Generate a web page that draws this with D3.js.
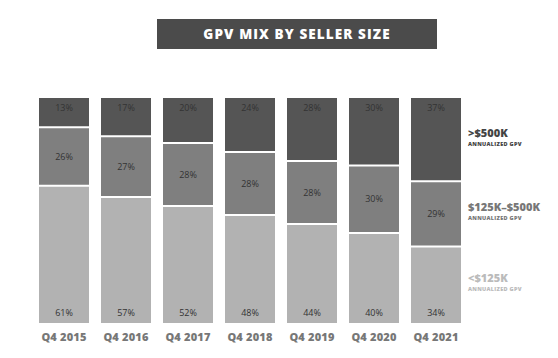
<!DOCTYPE html>
<html><head><meta charset="utf-8">
<script src="https://cdn.jsdelivr.net/npm/d3@7"></script>
<style>body{margin:0;background:#fff;} svg{display:block;}</style>
</head><body>
<svg id="c" width="558" height="358"></svg>
<script>
const quarters = ["Q4 2015","Q4 2016","Q4 2017","Q4 2018","Q4 2019","Q4 2020","Q4 2021"];
const large  = [13,17,20,24,28,30,37];   // >$500K
const medium = [26,27,28,28,28,30,29];   // $125K–$500K
const small  = [61,57,52,48,44,40,34];   // <$125K
const seriesNames = [">$500K","$125K–$500K","<$125K"];
const seriesSub = "ANNUALIZED GPV";
const title = "GPV MIX BY SELLER SIZE";

const colors = ["#555555","#7f7f7f","#b2b2b2"];
const legendColors = ["#444444","#777777","#bbbbbb"];

const svg = d3.select("#c");
const font = "'Open Sans', Lato, sans-serif";

// title
svg.append("rect").attr("x",157).attr("y",19).attr("width",280).attr("height",30).attr("fill","#4b4b4b");
svg.append("text").attr("x",297).attr("y",34).attr("dy","0.35em").attr("text-anchor","middle")
  .attr("fill","#fff").attr("font-family",font).attr("font-weight",800).attr("font-size",13.5)
  .attr("letter-spacing",1.1)
  .text(title);

const x = d3.scaleBand().domain(quarters).range([39,461]).paddingInner(12/62).paddingOuter(0);
const y = d3.scaleLinear().domain([0,100]).range([98,323]);

const rows = quarters.map((q,i)=>({q, vals:[large[i],medium[i],small[i]]}));
const g = svg.append("g");
rows.forEach(r=>{
  let cum = 0;
  r.vals.forEach((v,k)=>{
    const start = cum;
    const end = k===2 ? 100 : Math.min(100, cum+v);
    cum += v;
    g.append("rect").attr("x",x(r.q)).attr("width",x.bandwidth())
      .attr("y",y(start)).attr("height",y(end)-y(start)).attr("fill",colors[k]);
    if(k>0){
      g.append("line").attr("x1",x(r.q)).attr("x2",x(r.q)+x.bandwidth())
        .attr("y1",y(start)).attr("y2",y(start)).attr("stroke","#fff").attr("stroke-width",2);
    }
    let ly;
    if(k===0) ly = y(start)+10;
    else if(k===1) ly = (y(start)+y(end))/2;
    else ly = y(end)-10;
    g.append("text").attr("x",x(r.q)+x.bandwidth()/2).attr("y",ly).attr("dy","0.35em")
      .attr("text-anchor","middle").attr("fill","#333").attr("font-family",font)
      .attr("font-size",9).text(v+"%");
  });
});

// x axis labels
const xAxis = d3.axisBottom(x).tickSize(0).tickPadding(5);
const ax = svg.append("g").attr("transform","translate(0,328)").call(xAxis);
ax.select(".domain").remove();
ax.selectAll("text").attr("fill","#777").attr("font-family",font).attr("font-weight",800)
  .attr("font-size",11).attr("letter-spacing",0.2);

// legend aligned to last bar segments
const last = rows[rows.length-1];
let cum=0;
last.vals.forEach((v,k)=>{
  const s=cum, e= k===2?100:cum+v; cum+=v;
  const cy = (y(s)+y(e))/2 - 7;
  svg.append("text").attr("x",468).attr("y",cy+4).attr("fill",legendColors[k])
    .attr("font-family",font).attr("font-weight",800).attr("font-size",11).text(seriesNames[k]);
  svg.append("text").attr("x",468).attr("y",cy+13).attr("fill",legendColors[k])
    .attr("font-family",font).attr("font-weight",800).attr("font-size",5.5)
    .attr("letter-spacing",0.3).text(seriesSub);
});
</script>
</body></html>
